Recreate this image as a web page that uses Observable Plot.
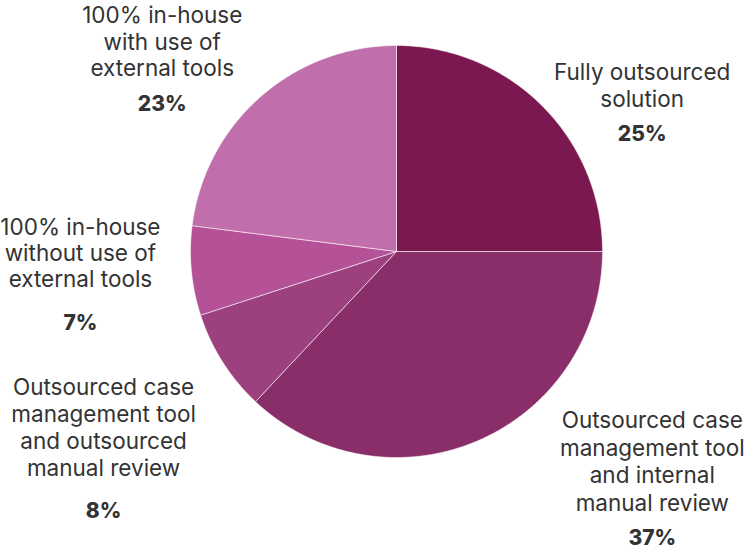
<!DOCTYPE html>
<html>
<head>
<meta charset="utf-8">
<script src="https://cdn.jsdelivr.net/npm/d3@7"></script>
<script src="https://cdn.jsdelivr.net/npm/@observablehq/plot@0.6"></script>
<style>
  html, body { margin: 0; padding: 0; background: #fff; }
  #chart svg { display: block; }
</style>
</head>
<body>
<div id="chart"></div>
<script>
// ---- data ----
const categories = [
  "Fully outsourced solution",
  "Outsourced case management tool and internal manual review",
  "Outsourced case management tool and outsourced manual review",
  "100% in-house without use of external tools",
  "100% in-house with use of external tools"
];
const labelLines = [
  ["Fully outsourced", "solution"],
  ["Outsourced case", "management tool", "and internal", "manual review"],
  ["Outsourced case", "management tool", "and outsourced", "manual review"],
  ["100% in-house", "without use of", "external tools"],
  ["100% in-house", "with use of", "external tools"]
];
const values = [25, 37, 8, 7, 23];
const colors = ["#7B1850", "#8A2E6A", "#9C407E", "#B45197", "#C16FAC"];

// ---- layout (pixels) ----
const W = 748, H = 551;
const CX = 396, CY = 251, R = 206;
// nudges of each percentage label from the slice's outer mid-point (px), gap to the name block, line step
const labelNudge = [
  {dx: 100, dy: 28, gap: 34, step: 27},
  {dx: 174, dy: 98, gap: 35, step: 27.5},
  {dx: -119, dy: 149, gap: 42, step: 27},
  {dx: -111, dy: 52, gap: 43, step: 26},
  {dx: -98, dy: 7, gap: 35, step: 26.5}
];

// ---- pie geometry ----
const arcs = d3.pie().sort(null).value(d => d.value)(
  categories.map((c, i) => ({cat: c, value: values[i], i}))
);
const slicePts = [];
for (const a of arcs) {
  const cat = a.data.cat;
  slicePts.push({cat, x: 0, y: 0});
  const n = Math.max(2, Math.ceil((a.endAngle - a.startAngle) / 0.005));
  for (let k = 0; k <= n; k++) {
    const t = a.startAngle + (a.endAngle - a.startAngle) * k / n;
    slicePts.push({cat, x: Math.sin(t), y: Math.cos(t)});
  }
  slicePts.push({cat, x: 0, y: 0});
}

// ---- labels ----
const nameRows = [], pctRows = [];
arcs.forEach((a, i) => {
  const mid = (a.startAngle + a.endAngle) / 2;
  const nz = labelNudge[i];
  const px = Math.sin(mid) + nz.dx / R;
  const py = Math.cos(mid) - nz.dy / R;
  pctRows.push({x: px, y: py, text: values[i] + "%"});
  const lines = labelLines[i];
  lines.forEach((ln, j) => {
    const off = nz.gap + (lines.length - 1 - j) * nz.step;
    nameRows.push({x: px, y: py + off / R, text: ln});
  });
});

const font = "Inter, 'Open Sans', sans-serif";
const chart = Plot.plot({
  width: W,
  height: H,
  margin: 0,
  style: {background: "#fff", fontFamily: font},
  x: {domain: [-1, 1], range: [CX - R, CX + R], axis: null},
  y: {domain: [-1, 1], range: [CY + R, CY - R], axis: null},
  color: {domain: categories, range: colors},
  marks: [
    Plot.line(slicePts, {
      x: "x", y: "y", z: "cat", fill: "cat",
      stroke: "#ffffff", strokeWidth: 0.8, strokeOpacity: 0.7, curve: "linear"
    }),
    Plot.text(nameRows, {
      x: "x", y: "y", text: "text",
      fontSize: 22.5, fill: "#333333", fontWeight: 400, textAnchor: "middle", lineAnchor: "middle"
    }),
    Plot.text(pctRows, {
      x: "x", y: "y", text: "text",
      fontSize: 21, fill: "#333333", fontWeight: 800, textAnchor: "middle", lineAnchor: "middle"
    })
  ]
});
document.getElementById("chart").appendChild(chart);
</script>
</body>
</html>
